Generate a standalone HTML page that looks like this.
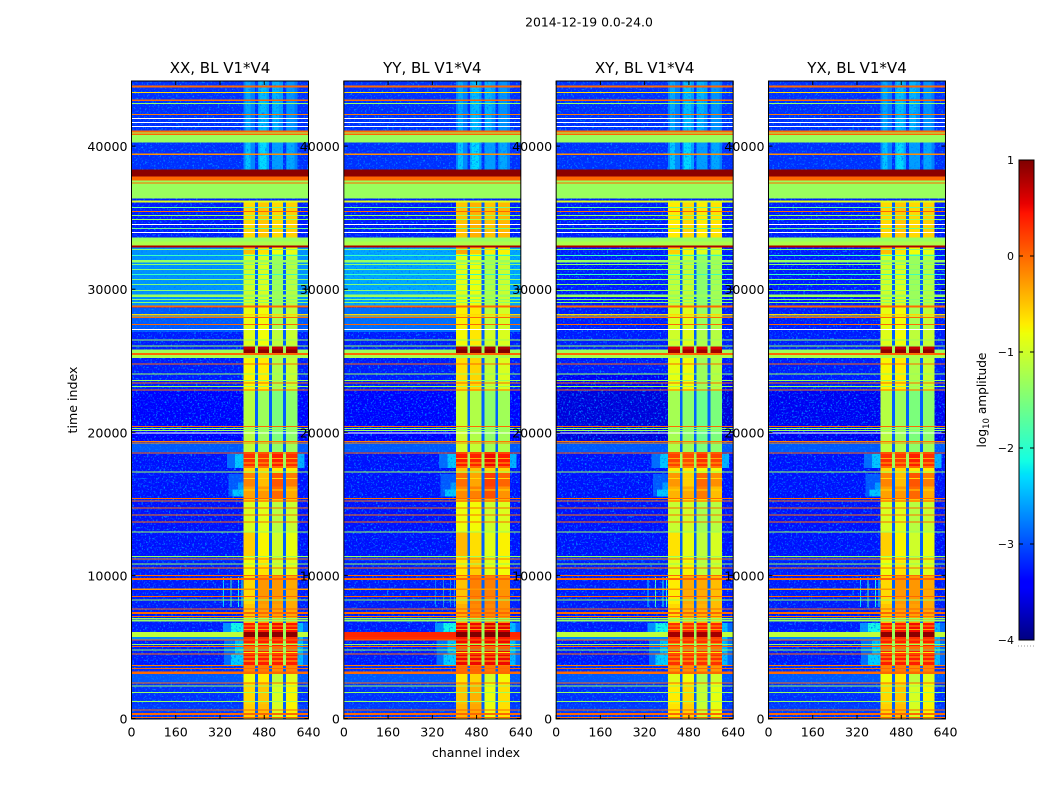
<!DOCTYPE html>
<html>
<head>
<meta charset="utf-8">
<title>2014-12-19 0.0-24.0</title>
<style>
html,body{margin:0;padding:0;background:#fff;width:1050px;height:800px;overflow:hidden}
svg{display:block}
text{font-family:"DejaVu Sans","Liberation Sans",sans-serif;fill:#000}
</style>
</head>
<body>
<svg id="chart" xmlns="http://www.w3.org/2000/svg" width="1050" height="800" viewBox="0 0 1050 800">
  <defs>
    <filter id="speckle" x="0" y="0" width="100%" height="100%" color-interpolation-filters="sRGB">
      <feTurbulence type="fractalNoise" baseFrequency="0.55" numOctaves="2" seed="4"/>
      <feColorMatrix type="matrix" values="0 0 0 0 0  0 0 0 0 0.5  0 0 0 0 1  3 3 0 0 -3.15"/>
    </filter>
  </defs>
  <text x="589" y="26.5" font-size="12.4" text-anchor="middle">2014-12-19 0.0-24.0</text>
  <text x="476" y="757" font-size="12.6" text-anchor="middle">channel index</text>
  <text x="77" y="400" font-size="12.6" text-anchor="middle" transform="rotate(-90 77 400)">time index</text>
  <text x="986" y="400" font-size="12.2" text-anchor="middle" transform="rotate(-90 986 400)">log<tspan font-size="8.5" dy="3">10</tspan><tspan dy="-3"> amplitude</tspan></text>
  <g id="panels"></g>
  <g id="colorbar"></g>
</svg>
<script>
// ---- labels and ticks ----
const panelNames = ['XX', 'YY', 'XY', 'YX'];
const channelTicks = [0, 160, 320, 480, 640];
const timeTicks = [0, 10000, 20000, 30000, 40000];
const colorbarTicks = [1, 0, -1, -2, -3, -4];
const colorbarLabels = ['1', '0', '\u22121', '\u22122', '\u22123', '\u22124'];

// ---- axis domains ----
const channelMax = 640;
const timeMax = 44550;
const levelMin = -4;
const levelMax = 1;

// ---- time regions: top time index, background log10 amplitude, four sub-band levels ----
const regionTop = [44550,42200,41080,40770,40240,38360,37890,37610,36330,36200,36050,33600,33340,33040,32900,32450,28850,28710,27200,26000,25770,25540,25400,25210,22900,19270,18640,17520,17170,16200,15420,15140,13000,11300,11000,10000,8000,6680,6050,5700,5490,3740,3180,2480,1000];
const regionBg = [-3.15,-3.15,0,-1.32,-3.15,0.95,0,-1.32,-3.25,-0.9,-3.25,-1.32,-1.2,0.8,-3.25,-3.25,0,-3.25,-3.25,-3.25,-1.3,0,-1.2,-3.25,-3.45,-2.95,-3.3,-3.3,-3.3,-3.3,-3.25,-3.3,-3.3,-3.15,-3.25,-3.25,-3.25,-3.25,-1.1,-2.7,-3.25,-3.15,-2.95,-3.15,-3.1];
const regionBand = [
  [-2.75,-2.6,-2.6,-2.8],[-2.8,-2.6,-2.7,-2.75],null,null,[-2.7,-2.55,-2.6,-2.75],null,null,null,null,null,
  [-0.6,-0.5,-0.6,-0.55],null,null,null,[-0.45,-0.65,-0.8,-0.85],[-1.0,-0.95,-1.3,-1.15],null,
  [-0.85,-0.8,-1.25,-1.1],[-0.9,-0.8,-1.1,-1.05],[0.7,0.7,0.7,0.7],[0.95,0.95,0.95,0.95],null,null,[-0.75,-0.7,-1.2,-1.05],
  [-1.15,-1.3,-1.5,-1.4],[-1.1,-1.2,-1.4,-1.3],[0.3,0.25,0.4,0.3],[-0.6,-0.6,-0.7,-0.7],
  [-0.15,-0.45,0.1,-0.1],[-0.3,-0.25,0,-0.35],[-0.5,-0.5,-0.5,-0.5],[-0.95,-0.9,-1.15,-1.05],[-0.55,-0.75,-1.0,-0.85],
  [-0.8,-0.7,-1.05,-0.9],[-0.8,-0.65,-1.0,-0.9],[-0.6,-0.25,-0.25,-0.35],[-0.5,-0.3,-0.3,-0.35],
  [0.4,0.4,0.5,0.45],[0.95,0.95,0.95,0.95],[0.3,0.3,0.3,0.3],[0.4,0.4,0.4,0.4],
  [-0.15,-0.1,-0.2,-0.15],[-0.8,-0.7,-1.1,-0.9],[-0.6,-0.5,-0.95,-0.75],[-0.55,-0.45,-0.95,-0.75]
];

// ---- sub-band channel limits ----
const bandStart = [405, 457, 508, 558];
const bandEnd = [447, 498, 548, 600];

// ---- brighter vertical streaks in quiet regions ----
const streakTop = [44550,44550,44550,44550,40240,40240,40240,40240,9900,9900,9900,9900];
const streakBottom = [41100,41100,41100,41100,38360,38360,38360,38360,7800,7800,7800,7800];
const streakFirst = [412,462,510,562,412,462,510,562,331,358,385,398];
const streakLast = [430,488,534,590,430,488,534,590,334,361,388,401];
const streakLevel = [-2.55,-2.45,-2.5,-2.65,-2.4,-2.3,-2.6,-2.55,-2.3,-1.8,-2.1,-2.1];

// ---- full-width flagged rows: time index, row span, level (null = masked white) ----
const rowTime = [44182,43762,43203,42972,42203,41923,41643,41364,41035,40909,39427,37413,35720,35440,35161,34860,34510,34230,33951,32762,32343,31944,31713,31364,31014,30664,30315,29895,29546,29266,29056,28217,28112,28007,27517,27168,26468,26040,24769,24091,23622,23441,23203,22972,20405,20280,20140,19965,19357,19266,18546,17217,15385,15210,14699,14210,13720,13021,11315,11133,10783,10503,9986,9755,9035,8518,8287,7636,7378,7119,6993,6853,5490,5189,5021,4790,4510,3692,3510,3203,2483,2273,1832,1203,594,315,70];
const rowSpan = [140,70,100,70,70,70,70,70,140,70,80,70,70,70,70,70,70,70,70,70,70,170,70,70,70,70,70,70,200,70,70,70,70,70,70,70,70,70,70,70,70,70,70,70,70,70,70,70,70,70,70,70,70,70,70,70,70,70,70,70,70,70,70,140,90,70,70,70,140,70,70,140,70,70,70,70,70,70,70,170,70,70,70,70,70,140,70];
const rowLevel = [0,-0.6,0,-1.32,-0.1,null,null,null,0,-1.32,-0.2,0,-1.6,0,-1.32,-1.32,null,-1.6,null,-1.45,-1.9,-1.32,-1.45,-1.45,-1.9,-1.45,-1.45,-1.4,-1.32,-1.45,-1.4,-0.6,-0.6,0,0,null,-1.32,-1.32,0,-1.32,-1.32,0,-1.32,0,0,-1.32,-1.32,null,-0.1,-0.2,-0.1,-1.32,0,0,0,-0.05,0,-1.32,-1.32,-0.05,-1.32,0,0,0,-0.25,0,-1.32,0,0,-0.05,-1.32,-1.32,0,-1.32,0,-1.32,0,-0.1,0,0,0,-1.32,-1.32,-1.32,0,0,0];

// ---- stripes inside the band only: time index, level ----
const stripeTime = [18200,17900,17620,16800,16000,6500,6270,5250,4950,4650,4350,4050];
const stripeLevel = [-0.35,-0.4,-0.4,-0.6,-0.6,-0.3,-0.3,-0.7,-0.5,-0.7,-0.4,-0.5];

// ---- leakage next to the band: top, bottom, first channel, last channel, level ----
const leakTop = [18500,18500,17100,16500,16000,6680,6680,5490,5490,4500,18500,6680,6680];
const leakBottom = [17500,17500,15500,16000,15500,6050,6050,3750,4500,3750,17500,3700,3700];
const leakFirst = [345,375,350,385,365,330,360,335,375,360,600,600,600];
const leakLast = [405,405,405,405,405,405,405,405,405,405,625,640,620];
const leakLevel = [-2.85,-2.4,-2.95,-2.6,-2.4,-2.65,-2.15,-2.85,-2.45,-2.35,-2.5,-2.85,-2.45];

// ---- background per polarization: panel, top, bottom, level ----
const bgPanel = [0,1,0,1,1,1,2,2,3];
const bgTop = [32900,32900,28700,28700,6050,5700,24000,22900,22900];
const bgBottom = [28850,28850,27000,27000,5700,5490,19270,19270,19270];
const bgLevelOverride = [-2.65,-2.55,-2.95,-2.85,0.35,0.3,-3.5,-3.6,-3.5];

// ---- band level adjustment per polarization ----
const bandOffset = [0, 0.12, -0.1, 0];

// ---- layout ----
const panelWidth = 177;
const plotTop = 81;
const plotBottom = 719;
const SVGNS = 'http://www.w3.org/2000/svg';

function panelLeft(p) { return 131.5 + p * 212.33; }
function xScale(ch, p) { return panelLeft(p) + ch / channelMax * panelWidth; }
function yScale(t) { return 718.5 - t * (637.5 / timeMax); }

function lerpStops(v, stops) {
  for (let i = 1; i < stops.length; i++) {
    if (v <= stops[i][0]) {
      const a = stops[i - 1], b = stops[i];
      return a[1] + (b[1] - a[1]) * (v - a[0]) / (b[0] - a[0]);
    }
  }
  return stops[stops.length - 1][1];
}
const jetR = [[0,0],[0.35,0],[0.66,1],[0.89,1],[1,0.5]];
const jetG = [[0,0],[0.125,0],[0.375,1],[0.64,1],[0.91,0],[1,0]];
const jetB = [[0,0.5],[0.11,1],[0.34,1],[0.65,0],[1,0]];
function levelColor(level) {
  if (level === null) return '#ffffff';
  const v = Math.max(0, Math.min(1, (level - levelMin) / (levelMax - levelMin)));
  const c = [jetR, jetG, jetB].map(function (s) { return Math.round(lerpStops(v, s) * 255); });
  return 'rgb(' + c.join(',') + ')';
}

function addRect(parent, name, x, y, w, h, fill) {
  const r = document.createElementNS(SVGNS, 'rect');
  
  
  r.setAttribute('x', x.toFixed(2));
  r.setAttribute('y', y.toFixed(2));
  r.setAttribute('width', Math.max(w, 0).toFixed(2));
  r.setAttribute('height', Math.max(h, 0).toFixed(2));
  r.setAttribute('fill', fill);
  parent.appendChild(r);
  return r;
}
function addLine(parent, name, x1, y1, x2, y2) {
  const l = document.createElementNS(SVGNS, 'line');
  
  
  l.setAttribute('x1', x1);
  l.setAttribute('y1', y1);
  l.setAttribute('x2', x2);
  l.setAttribute('y2', y2);
  l.setAttribute('stroke', '#000');
  l.setAttribute('stroke-width', '1');
  parent.appendChild(l);
}
function addText(parent, name, x, y, str, size, anchor) {
  const t = document.createElementNS(SVGNS, 'text');
  
  
  t.setAttribute('x', x);
  t.setAttribute('y', y);
  t.setAttribute('font-size', size);
  t.setAttribute('text-anchor', anchor);
  t.textContent = str;
  parent.appendChild(t);
}
function regionBottom(i) { return i + 1 < regionTop.length ? regionTop[i + 1] : 0; }
function cell(g, name, p, c0, c1, t0, t1, level) {
  addRect(g, name, xScale(c0, p), yScale(t0), xScale(c1, p) - xScale(c0, p), yScale(t1) - yScale(t0), levelColor(level));
}

function drawPanel(p) {
  const g = document.createElementNS(SVGNS, 'g');
  
  
  document.getElementById('panels').appendChild(g);

  const heat = document.createElementNS(SVGNS, 'g');
  
  
  heat.setAttribute('shape-rendering', 'crispEdges');
  g.appendChild(heat);

  // noisy backgrounds first
  regionTop.forEach(function (t, i) {
    if (regionBg[i] <= -2) cell(heat, 'background-region', p, 0, channelMax, t, regionBottom(i), regionBg[i]);
  });
  bgPanel.forEach(function (q, i) {
    if (q === p && bgLevelOverride[i] <= -2) cell(heat, 'background-override', p, 0, channelMax, bgTop[i], bgBottom[i], bgLevelOverride[i]);
  });
  leakTop.forEach(function (t, i) {
    cell(heat, 'band-leakage', p, leakFirst[i], leakLast[i], t, leakBottom[i], leakLevel[i]);
  });

  // quiet sub-bands and streaks keep the speckle
  regionTop.forEach(function (t, i) {
    const levels = regionBand[i];
    if (!levels || levels[0] > -2) return;
    levels.forEach(function (lv, s) {
      cell(heat, 'quiet-sub-band', p, bandStart[s], bandEnd[s], t, regionBottom(i), lv);
    });
  });
  streakTop.forEach(function (t, i) {
    cell(heat, 'band-streak', p, streakFirst[i], streakLast[i], t, streakBottom[i], streakLevel[i]);
  });

  const noise = addRect(heat, 'noise-texture', xScale(0, p), plotTop, panelWidth, plotBottom - plotTop, '#000');
  noise.setAttribute('filter', 'url(#speckle)');

  // saturated rows sit above the noise
  regionTop.forEach(function (t, i) {
    if (regionBg[i] > -2) cell(heat, 'saturated-region', p, 0, channelMax, t, regionBottom(i), regionBg[i]);
  });
  bgPanel.forEach(function (q, i) {
    if (q === p && bgLevelOverride[i] > -2) cell(heat, 'background-override', p, 0, channelMax, bgTop[i], bgBottom[i], bgLevelOverride[i]);
  });

  // bright sub-bands and the notches between them
  regionTop.forEach(function (t, i) {
    const levels = regionBand[i];
    if (!levels || levels[0] <= -2) return;
    cell(heat, 'notch-region', p, bandStart[0], bandEnd[3], t, regionBottom(i), levels[0] > 0 ? -1.3 : -2.9);
    levels.forEach(function (lv, s) {
      cell(heat, 'sub-band-cell', p, bandStart[s], bandEnd[s], t, regionBottom(i), lv + bandOffset[p]);
    });
  });
  stripeTime.forEach(function (t, i) {
    bandStart.forEach(function (b, s) {
      cell(heat, 'band-stripe', p, b, bandEnd[s], t, t - 70, stripeLevel[i]);
    });
  });

  // flagged rows
  rowTime.forEach(function (t, i) {
    cell(heat, 'flagged-row', p, 0, channelMax, t + rowSpan[i] / 2, t - rowSpan[i] / 2, rowLevel[i]);
  });

  // frame, ticks, labels
  const frame = addRect(g, 'panel-frame', xScale(0, p), plotTop, panelWidth, plotBottom - plotTop, 'none');
  frame.setAttribute('stroke', '#000');
  frame.setAttribute('stroke-width', '1');
  channelTicks.forEach(function (c) {
    const x = xScale(c, p);
    addLine(g, 'x-tick', x, plotBottom, x, plotBottom - 4);
    addLine(g, 'x-tick', x, plotTop, x, plotTop + 4);
    addText(g, 'x-tick-label', x, 736.5, String(c), 12.6, 'middle');
  });
  timeTicks.forEach(function (t) {
    const y = yScale(t);
    addLine(g, 'y-tick', xScale(0, p), y, xScale(0, p) + 4, y);
    addLine(g, 'y-tick', xScale(channelMax, p), y, xScale(channelMax, p) - 4, y);
    addText(g, 'y-tick-label', xScale(0, p) - 4, y + 5, String(t), 12.6, 'end');
  });
  addText(g, 'panel-title', xScale(channelMax / 2, p), 73, panelNames[p] + ', BL V1*V4', 15, 'middle');
}
panelNames.forEach(function (n, p) { drawPanel(p); });

// ---- colorbar ----
(function () {
  const g = document.getElementById('colorbar');
  const left = 1019, width = 15, top = 160, bottom = 640;
  function cy(level) { return bottom - (level - levelMin) / (levelMax - levelMin) * (bottom - top); }
  const steps = 240;
  for (let i = 0; i < steps; i++) {
    const lv = levelMin + (levelMax - levelMin) * (i + 0.5) / steps;
    const y1 = cy(levelMin + (levelMax - levelMin) * (i + 1) / steps);
    const seg = addRect(g, 'colorbar-segment', left, y1, width, (bottom - top) / steps + 0.4, levelColor(lv));
    seg.setAttribute('shape-rendering', 'crispEdges');
  }
  const f = addRect(g, 'colorbar-frame', left, top, width, bottom - top, 'none');
  f.setAttribute('stroke', '#000');
  f.setAttribute('stroke-width', '1');
  colorbarTicks.forEach(function (lv, i) {
    const y = cy(lv);
    addLine(g, 'colorbar-tick', left, y, left + 4, y);
    addLine(g, 'colorbar-tick', left + width - 4, y, left + width, y);
    addText(g, 'colorbar-tick-label', left - 5, y + 4, colorbarLabels[i], 11, 'end');
  });
  const dots = document.createElementNS(SVGNS, 'line');
  
  
  dots.setAttribute('x1', '1018');
  dots.setAttribute('y1', '646');
  dots.setAttribute('x2', '1035');
  dots.setAttribute('y2', '646');
  dots.setAttribute('stroke', '#999');
  dots.setAttribute('stroke-width', '1');
  dots.setAttribute('stroke-dasharray', '1 2');
  g.appendChild(dots);
})();
</script>
</body>
</html>
